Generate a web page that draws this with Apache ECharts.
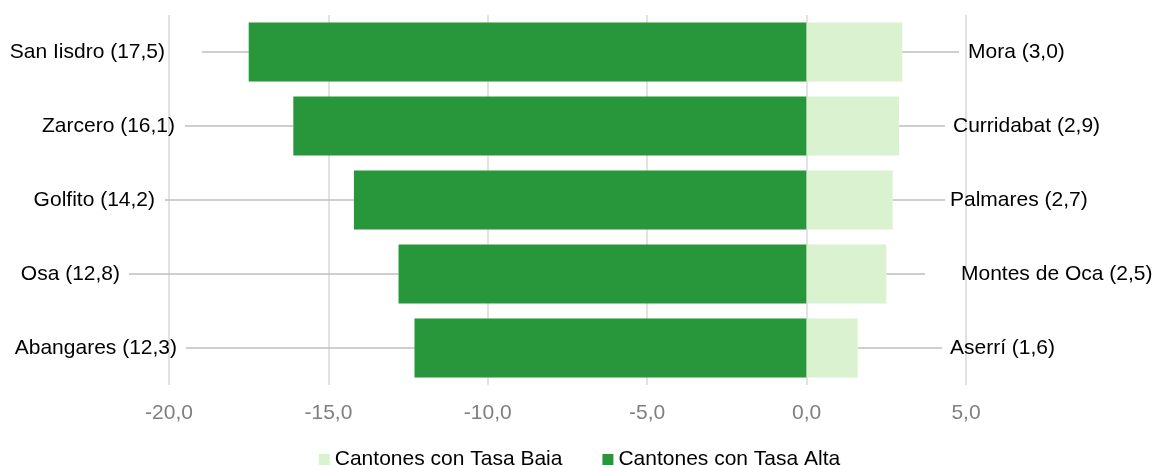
<!DOCTYPE html>
<html>
<head>
<meta charset="utf-8">
<script src="https://cdn.jsdelivr.net/npm/echarts@6/dist/echarts.min.js"></script>
<style>
  html, body { margin: 0; padding: 0; background: #fff; }
  #chart { width: 1159px; height: 465px; }
</style>
</head>
<body>
<div id="chart"></div>
<script>
// cantones con tasa alta (izquierda, negativos) y baja (derecha)
const altaNames = ["San Iisdro", "Zarcero", "Golfito", "Osa", "Abangares"];
const altaValues = [-17.5, -16.1, -14.2, -12.8, -12.3];
const bajaNames = ["Mora", "Curridabat", "Palmares", "Montes de Oca", "Aserrí"];
const bajaValues = [3.0, 2.9, 2.7, 2.5, 1.6];
const rows = ["1", "2", "3", "4", "5"];
const tickMin = -20, tickMax = 5, tickStep = 5;

// leader line end x (px) and gap between line end and text
const altaLabelX = [202, 185, 165, 129, 186];
const altaGap = [37, 10, 10, 9, 9];
const bajaLabelX = [959, 945, 945, 925, 942];
const bajaGap = [9, 8, 5, 36, 8];

const fmt = v => Math.abs(v).toFixed(1).replace(".", ",");

const chart = echarts.init(document.getElementById("chart"));
const font = "Liberation Sans, Arial, sans-serif";

function makeData(names, values) {
  return values.map((v, i) => ({ name: names[i], value: v }));
}
function gapRich(gaps) {
  const r = {};
  gaps.forEach((g, i) => { r["g" + i] = { width: g }; });
  return r;
}

chart.setOption({
  animation: false,
  textStyle: { fontFamily: font },
  grid: { left: 169, right: 193, top: 15, bottom: 80 },
  legend: {
    data: ["Cantones con Tasa Baja", "Cantones con Tasa Alta"],
    left: "center",
    top: 444,
    icon: "rect",
    itemWidth: 11,
    itemHeight: 11,
    itemGap: 40,
    textStyle: { fontSize: 21, color: "#000", fontFamily: font }
  },
  xAxis: {
    type: "value",
    min: tickMin,
    max: tickMax,
    interval: tickStep,
    axisLine: { show: false },
    axisTick: { show: false },
    splitLine: { lineStyle: { color: "#d9d9d9", width: 1.5 } },
    axisLabel: {
      fontSize: 21,
      color: "#808080",
      margin: 18,
      formatter: v => v.toFixed(1).replace(".", ",")
    }
  },
  yAxis: {
    type: "category",
    data: rows,
    inverse: true,
    axisLine: { show: false },
    axisTick: { show: false },
    axisLabel: { show: false },
    splitLine: { show: false }
  },
  series: [
    {
      name: "Cantones con Tasa Alta",
      type: "bar",
      stack: "t",
      barWidth: "80%",
      data: makeData(altaNames, altaValues),
      itemStyle: { color: "#28963b" },
      label: {
        show: true,
        fontSize: 21,
        color: "#000",
        formatter: p => p.name + " (" + fmt(p.value) + "){g" + p.dataIndex + "| }",
        rich: gapRich(altaGap)
      },
      labelLine: { show: true, lineStyle: { color: "#bfbfbf", width: 1.5 } },
      labelLayout: p => ({
        x: altaLabelX[p.dataIndex],
        y: p.rect.y + p.rect.height / 2,
        align: "right",
        verticalAlign: "middle"
      })
    },
    {
      name: "Cantones con Tasa Baja",
      type: "bar",
      stack: "t",
      barWidth: "80%",
      data: makeData(bajaNames, bajaValues),
      itemStyle: { color: "#daf2d0" },
      label: {
        show: true,
        fontSize: 21,
        color: "#000",
        formatter: p => "{g" + p.dataIndex + "| }" + p.name + " (" + fmt(p.value) + ")",
        rich: gapRich(bajaGap)
      },
      labelLine: { show: true, lineStyle: { color: "#bfbfbf", width: 1.5 } },
      labelLayout: p => ({
        x: bajaLabelX[p.dataIndex],
        y: p.rect.y + p.rect.height / 2,
        align: "left",
        verticalAlign: "middle"
      })
    }
  ]
});
</script>
</body>
</html>
